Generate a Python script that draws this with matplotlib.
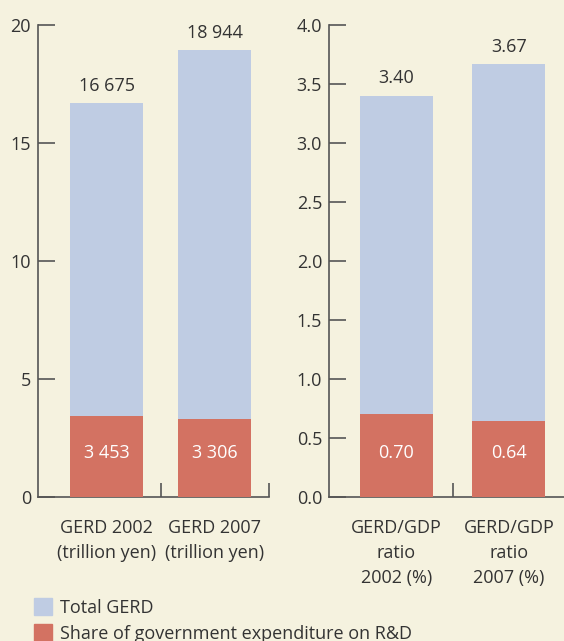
import matplotlib
matplotlib.use('Agg')
import numpy as np
import matplotlib.pyplot as plt
from matplotlib.patches import Patch

plt.rcParams['font.family'] = ['Open Sans', 'DejaVu Sans']

# data
gerd_labels = ["GERD 2002\n(trillion yen)", "GERD 2007\n(trillion yen)"]
gerd_total = [16.675, 18.944]
gerd_gov = [3.453, 3.306]
gerd_total_txt = ["16 675", "18 944"]
gerd_gov_txt = ["3 453", "3 306"]

ratio_labels = ["GERD/GDP\nratio\n2002 (%)", "GERD/GDP\nratio\n2007 (%)"]
ratio_total = [3.40, 3.67]
ratio_gov = [0.70, 0.64]
ratio_total_txt = ["3.40", "3.67"]
ratio_gov_txt = ["0.70", "0.64"]

bg = "#f5f2df"
blue = "#bfcce3"
red = "#d37262"
ink = "#333333"
spine_c = "#555555"
fs = 13

W, H = 564, 641
fig = plt.figure(figsize=(W / 100, H / 100), dpi=100, facecolor=bg)

ax1 = fig.add_axes([38 / W, 1 - 497 / H, 231 / W, 472 / H])
ax2 = fig.add_axes([329 / W, 1 - 497 / H, 236 / W, 472 / H])


def draw(ax, labels, total, gov, ttxt, gtxt, ymax, yticks, fmt, width, xlim):
    ax.set_facecolor(bg)
    x = np.arange(len(labels))
    ax.bar(x, total, width=width, color=blue, zorder=2)
    ax.bar(x, gov, width=width, color=red, zorder=3)
    for xi, t, tt, gt in zip(x, total, ttxt, gtxt):
        ax.annotate(tt, (xi, t), xytext=(0, 6), textcoords='offset points',
                    ha='center', va='bottom', fontsize=fs, color=ink)
        # inner labels sit at the same height in both bars
        ax.text(xi, ymax * 0.094, gt, ha='center', va='center',
                fontsize=fs, color='white', zorder=4)
    ax.set_xlim(*xlim)
    ax.set_ylim(0, ymax)
    ax.set_yticks(yticks)
    ax.set_yticklabels([fmt.format(v) for v in yticks])
    ax.set_xticks(x)
    ax.set_xticklabels(labels, linespacing=1.5)
    ax.set_xticks([0.5, 1.5], minor=True)
    ax.tick_params(axis='x', which='major', length=0, pad=16, labelsize=fs, labelcolor=ink)
    ax.tick_params(axis='x', which='minor', direction='in', length=10, width=1.2, color=spine_c)
    ax.tick_params(axis='y', direction='in', length=12, width=1.2, color=spine_c,
                   pad=5, labelsize=fs, labelcolor=ink)
    for s in ['top', 'right']:
        ax.spines[s].set_visible(False)
    for s in ['left', 'bottom']:
        ax.spines[s].set_color(spine_c)
        ax.spines[s].set_linewidth(1.2)


draw(ax1, gerd_labels, gerd_total, gerd_gov, gerd_total_txt, gerd_gov_txt,
     20, [0, 5, 10, 15, 20], "{:.0f}", 0.676, (-0.634, 1.5))
draw(ax2, ratio_labels, ratio_total, ratio_gov, ratio_total_txt, ratio_gov_txt,
     4.0, [0, 0.5, 1.0, 1.5, 2.0, 2.5, 3.0, 3.5, 4.0], "{:.1f}", 0.65, (-0.6, 1.5))

handles = [Patch(color=blue, label="Total GERD"),
           Patch(color=red, label="Share of government expenditure on R&D")]
fig.legend(handles=handles, loc='upper left', bbox_to_anchor=(34 / W, 1 - 598 / H),
           frameon=False, fontsize=fs, handlelength=1.0, handleheight=1.1,
           handletextpad=0.45, labelspacing=0.4, borderpad=0, borderaxespad=0,
           labelcolor=ink)

fig.savefig("out.png", dpi=100, facecolor=bg)
